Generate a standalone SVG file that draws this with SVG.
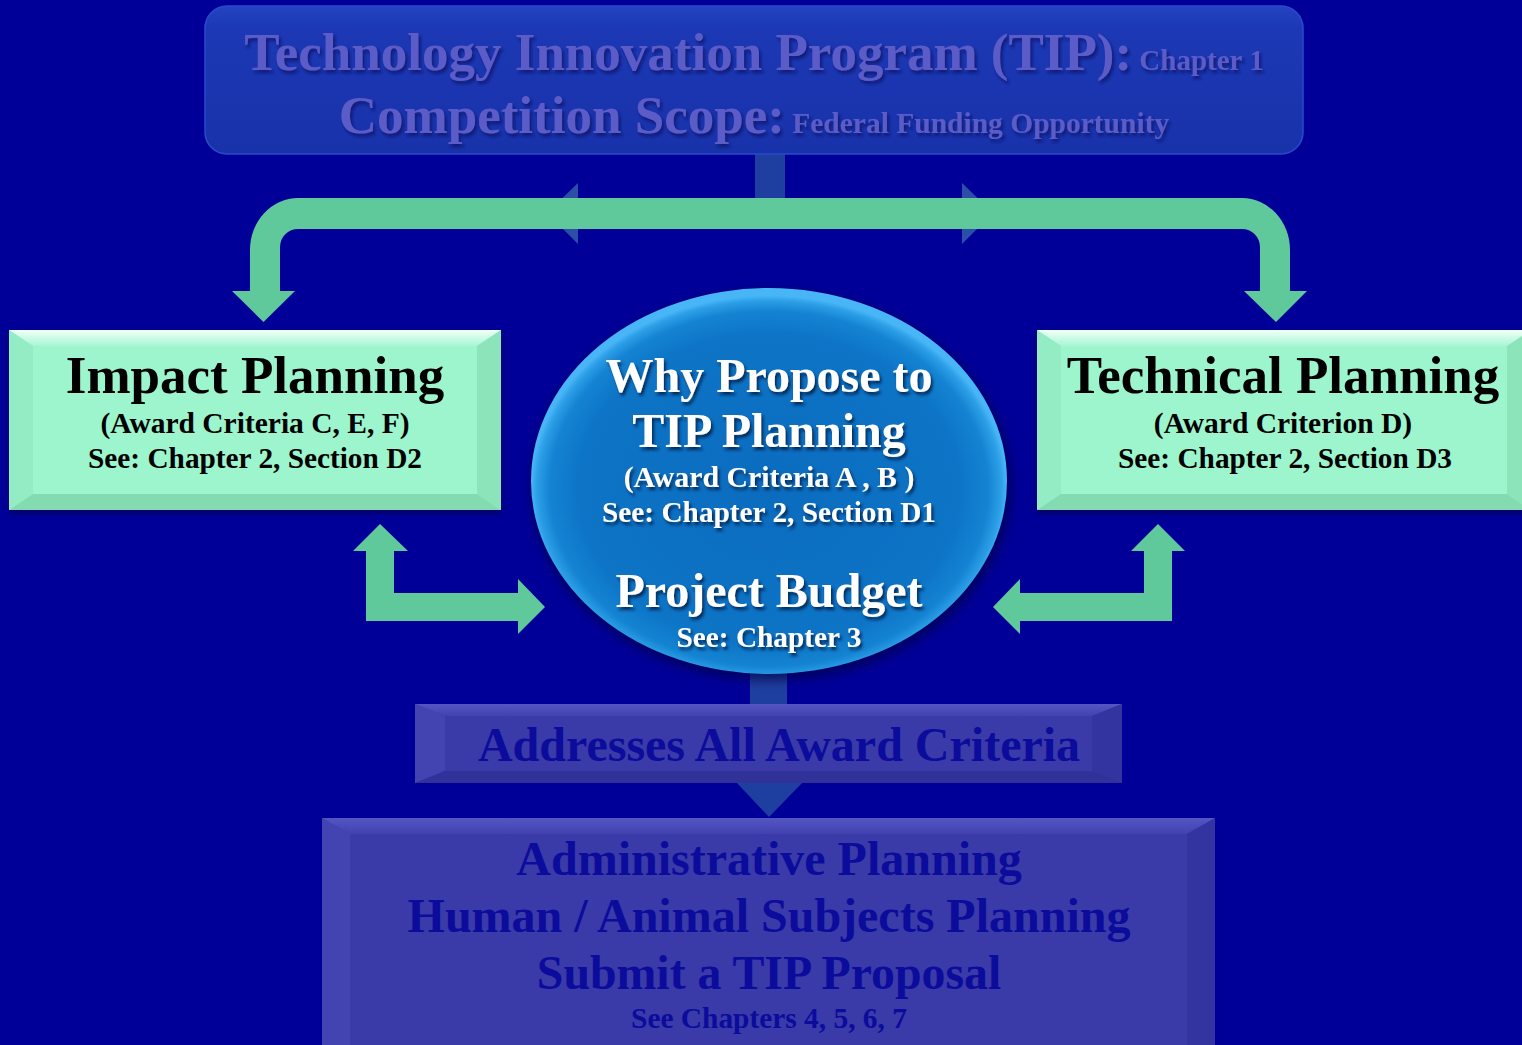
<svg xmlns="http://www.w3.org/2000/svg" width="1522" height="1045" viewBox="0 0 1522 1045">
  <defs>
    <style>
      .serif { font-family: "Liberation Serif", "Times New Roman", serif; font-weight: bold; text-anchor: middle; }
      .green { fill: #60c99b; }
      .link { fill: #1f3fa0; }
      .ghost { fill: #2b4fa6; }
      .mint-base { fill: #9cf5cd; }
      .mint-left { fill: #93ecc4; }
      .mint-right { fill: #8ce4bb; }
      .mint-bottom { fill: #84dbb2; }
      .violet-base { fill: #3a3aa8; }
      .violet-left { fill: #4343b2; }
      .violet-right { fill: #3434a0; }
      .violet-bottom { fill: #31319a; }
      .dark-ink { fill: #000000; }
      .navy-ink { fill: #0b0b9c; }
      .white-ink { fill: #ffffff; }
      .lav-ink { fill: #5b5bc9; }
    </style>
    <linearGradient id="headerFill" x1="0" y1="0" x2="0" y2="1">
      <stop offset="0" stop-color="#2443c2"/>
      <stop offset="0.15" stop-color="#1c38b4"/>
      <stop offset="1" stop-color="#1832aa"/>
    </linearGradient>
    <linearGradient id="mintTop" x1="0" y1="0" x2="0" y2="1">
      <stop offset="0" stop-color="#f2fffb"/>
      <stop offset="1" stop-color="#a6f6d3"/>
    </linearGradient>
    <linearGradient id="violetTop" x1="0" y1="0" x2="0" y2="1">
      <stop offset="0" stop-color="#5555c4"/>
      <stop offset="1" stop-color="#4141b0"/>
    </linearGradient>
    <radialGradient id="orbFill" cx="0.5" cy="0.52" r="0.5">
      <stop offset="0" stop-color="#0b6cbf"/>
      <stop offset="0.8" stop-color="#0d74c6"/>
      <stop offset="0.92" stop-color="#1483d2"/>
      <stop offset="0.975" stop-color="#2c9fe7"/>
      <stop offset="1" stop-color="#48b5f6"/>
    </radialGradient>
    <filter id="textShadow" x="-10%" y="-30%" width="120%" height="160%">
      <feDropShadow dx="2" dy="3" stdDeviation="1.5" flood-color="#001a4a" flood-opacity="0.85"/>
    </filter>
    <filter id="headerShadow" x="-10%" y="-30%" width="120%" height="160%">
      <feDropShadow dx="2" dy="3" stdDeviation="1.5" flood-color="#0a1470" flood-opacity="0.9"/>
    </filter>
    <filter id="boxShadow" x="-10%" y="-10%" width="120%" height="130%">
      <feDropShadow dx="0" dy="3" stdDeviation="3" flood-color="#000033" flood-opacity="0.6"/>
    </filter>
    <filter id="orbShadow" x="-20%" y="-20%" width="140%" height="140%">
      <feGaussianBlur stdDeviation="6"/>
    </filter>
  </defs>

  <!-- backdrop -->
  <rect x="0" y="0" width="1522" height="1045" fill="#000099"/>

  <!-- connectors -->
  <g id="connectors">
    <!-- stem under header -->
    <rect class="link" x="755" y="150" width="30" height="52"/>
    <!-- half-hidden heads behind the bracket -->
    <polygon class="ghost" points="578,183 578,244 547,213"/>
    <polygon class="ghost" points="962,183 962,244 993,213"/>
    <!-- bracket arrow splitting to both planning boxes -->
    <path class="green" d="M263.5,322 L295,291 L280,291 L280,247 A18,18 0 0 1 298,229 L1242,229 A18,18 0 0 1 1260,247 L1260,291 L1244,291 L1276,322 L1307,291 L1290,291 L1290,250 A48,52 0 0 0 1242,198 L298,198 A48,52 0 0 0 250,250 L250,291 L232,291 Z"/>
    <!-- two-way elbow arrows to the centre -->
    <polygon class="green" points="380,524 408,551 394,551 394,593 518,593 518,579 545,607 518,634 518,621 366,621 366,551 353,551"/>
    <polygon class="green" points="1158,524 1185,551 1172,551 1172,621 1020,621 1020,634 993,607 1020,579 1020,593 1144,593 1144,551 1131,551"/>
    <!-- centre to criteria box, criteria box to admin box -->
    <rect class="link" x="750" y="672" width="37" height="34"/>
    <polygon class="link" points="736,782 803,782 769,817"/>
  </g>

  <!-- header -->
  <g id="header">
    <rect x="205" y="6" width="1098" height="148" rx="22" fill="url(#headerFill)" stroke="#2a4acb" stroke-width="1.5"/>
    <g filter="url(#headerShadow)">
      <text class="serif lav-ink" x="754" y="70"><tspan font-size="53">Technology Innovation Program (TIP):</tspan><tspan font-size="29"> Chapter 1</tspan></text>
      <text class="serif lav-ink" x="754" y="133"><tspan font-size="53">Competition Scope:</tspan><tspan font-size="29.5"> Federal Funding Opportunity</tspan></text>
    </g>
  </g>

  <!-- impact planning -->
  <g id="impact-planning">
    <g filter="url(#boxShadow)">
      <rect class="mint-base" x="9" y="330" width="492" height="180"/>
    </g>
    <polygon fill="url(#mintTop)" points="9,330 501,330 477,346 33,346"/>
    <polygon class="mint-left" points="9,330 33,346 33,494 9,510"/>
    <polygon class="mint-right" points="501,330 501,510 477,494 477,346"/>
    <polygon class="mint-bottom" points="9,510 33,494 477,494 501,510"/>
    <rect class="mint-base" x="33" y="346" width="444" height="148"/>
    <text class="serif dark-ink" x="255" y="393" font-size="53">Impact Planning</text>
    <text class="serif dark-ink" x="255" y="433" font-size="29.5">(Award Criteria C, E, F)</text>
    <text class="serif dark-ink" x="255" y="468" font-size="29.3">See: Chapter 2, Section D2</text>
  </g>

  <!-- technical planning -->
  <g id="technical-planning">
    <g filter="url(#boxShadow)">
      <rect class="mint-base" x="1037" y="330" width="494" height="180"/>
    </g>
    <polygon fill="url(#mintTop)" points="1037,330 1531,330 1507,346 1061,346"/>
    <polygon class="mint-left" points="1037,330 1061,346 1061,494 1037,510"/>
    <polygon class="mint-right" points="1531,330 1531,510 1507,494 1507,346"/>
    <polygon class="mint-bottom" points="1037,510 1061,494 1507,494 1531,510"/>
    <rect class="mint-base" x="1061" y="346" width="446" height="148"/>
    <text class="serif dark-ink" x="1283" y="393" font-size="53">Technical Planning</text>
    <text class="serif dark-ink" x="1283" y="433" font-size="29.5">(Award Criterion D)</text>
    <text class="serif dark-ink" x="1285" y="468" font-size="29.3">See: Chapter 2, Section D3</text>
  </g>

  <!-- centre orb -->
  <g id="why-propose">
    <ellipse cx="771" cy="486" rx="240" ry="194" fill="#000044" opacity="0.7" filter="url(#orbShadow)"/>
    <ellipse cx="769" cy="481" rx="238" ry="193" fill="url(#orbFill)"/>
    <g filter="url(#textShadow)">
      <text class="serif white-ink" x="769" y="392" font-size="48">Why Propose to</text>
      <text class="serif white-ink" x="769" y="447" font-size="48">TIP Planning</text>
      <text class="serif white-ink" x="769" y="487" font-size="29.8">(Award Criteria A , B )</text>
      <text class="serif white-ink" x="769" y="522" font-size="29.3">See: Chapter 2, Section D1</text>
      <text class="serif white-ink" x="769" y="607" font-size="48">Project Budget</text>
      <text class="serif white-ink" x="769" y="647" font-size="29.3">See: Chapter 3</text>
    </g>
  </g>

  <!-- award criteria -->
  <g id="award-criteria">
    <rect class="violet-base" x="415" y="704" width="707" height="79"/>
    <polygon fill="url(#violetTop)" points="415,704 1122,704 1092,716 445,716"/>
    <polygon class="violet-left" points="415,704 445,716 445,771 415,783"/>
    <polygon class="violet-right" points="1122,704 1122,783 1092,771 1092,716"/>
    <polygon class="violet-bottom" points="415,783 445,771 1092,771 1122,783"/>
    <rect class="violet-base" x="445" y="716" width="647" height="55"/>
    <text class="serif navy-ink" x="779" y="761" font-size="48">Addresses All Award Criteria</text>
  </g>

  <!-- administrative planning -->
  <g id="administrative-planning">
    <rect class="violet-base" x="322" y="818" width="893" height="240"/>
    <polygon fill="url(#violetTop)" points="322,818 1215,818 1187,834 350,834"/>
    <polygon class="violet-left" points="322,818 350,834 350,1045 322,1045"/>
    <polygon class="violet-right" points="1215,818 1215,1045 1187,1045 1187,834"/>
    <rect class="violet-base" x="350" y="834" width="837" height="211"/>
    <text class="serif navy-ink" x="769" y="875" font-size="48">Administrative Planning</text>
    <text class="serif navy-ink" x="769" y="932" font-size="48">Human / Animal Subjects Planning</text>
    <text class="serif navy-ink" x="769" y="989" font-size="47.8">Submit a TIP Proposal</text>
    <text class="serif navy-ink" x="769" y="1028" font-size="29.4">See Chapters 4, 5, 6, 7</text>
  </g>
</svg>
